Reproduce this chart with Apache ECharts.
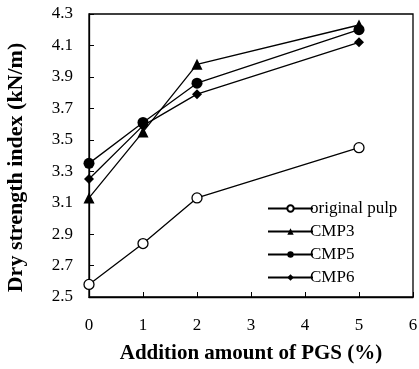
<!DOCTYPE html>
<html>
<head>
<meta charset="utf-8">
<script src="https://cdn.jsdelivr.net/npm/echarts@6/dist/echarts.min.js"></script>
<style>
  html, body { margin: 0; padding: 0; background: #fff; }
  #chart { width: 419px; height: 369px; }
</style>
</head>
<body>
<div id="chart"></div>
<script>
// 数据
const additions = [0, 1, 2, 5];
const originalPulp = [2.58, 2.84, 3.13, 3.45];
const cmp3 = [3.13, 3.55, 3.98, 4.23];
const cmp5 = [3.35, 3.61, 3.86, 4.20];
const cmp6 = [3.25, 3.59, 3.79, 4.12];
const yTicks = ['2.5', '2.7', '2.9', '3.1', '3.3', '3.5', '3.7', '3.9', '4.1', '4.3'];

const font = '"Liberation Serif", "DejaVu Serif", serif';

function pairs(vals) {
    return additions.map((x, i) => [x, vals[i]]);
}

function line(name, vals, symbol, size, hollow) {
    return {
        name: name,
        type: 'line',
        data: pairs(vals),
        symbol: symbol,
        symbolSize: size,
        showSymbol: true,
        lineStyle: { color: '#000', width: 1.3 },
        itemStyle: {
            color: hollow ? '#fff' : '#000',
            borderColor: '#000',
            borderWidth: hollow ? 1.3 : 0
        },
        animation: false
    };
}

let myChart = echarts.init(document.getElementById('chart'));
myChart.setOption({
    backgroundColor: '#fff',
    grid: { left: 89, top: 14, right: 6, bottom: 72, outerBoundsMode: 'none', containLabel: false },
    legend: {
        orient: 'vertical',
        left: 262,
        top: 195,
        itemWidth: 45,
        itemHeight: 8,
        itemGap: 6,
        textStyle: { fontFamily: font, fontSize: 17, color: '#000', padding: [0, 0, 0, -8] },
        data: ['original pulp', 'CMP3', 'CMP5', 'CMP6']
    },
    xAxis: {
        type: 'value',
        min: 0, max: 6, interval: 1,
        name: 'Addition amount of PGS (%)',
        nameLocation: 'middle',
        nameGap: 46,
        nameTextStyle: { fontFamily: font, fontSize: 21, fontWeight: 'bold', color: '#000' },
        axisLine: { show: true, lineStyle: { color: '#000', width: 1.3 } },
        axisTick: { show: true, inside: true, length: 5, lineStyle: { color: '#000' } },
        axisLabel: { fontFamily: font, fontSize: 17, color: '#000', margin: 20 },
        splitLine: { show: false }
    },
    yAxis: {
        type: 'value',
        min: 2.5, max: 4.3, interval: 0.2,
        name: 'Dry strength index (kN/m)',
        nameLocation: 'middle',
        nameGap: 62,
        nameTextStyle: { fontFamily: font, fontSize: 22, fontWeight: 'bold', color: '#000', padding: [0, 24, 0, 0] },
        axisLine: { show: true, lineStyle: { color: '#000', width: 1.3 } },
        axisTick: { show: true, inside: true, length: 5, lineStyle: { color: '#000' } },
        axisLabel: {
            fontFamily: font, fontSize: 17, color: '#000', margin: 16,
            formatter: function (v) {
                const s = v.toFixed(1);
                return yTicks.indexOf(s) >= 0 ? s : '';
            }
        },
        splitLine: { show: false }
    },
    graphic: [{
        // 外框
        type: 'rect',
        shape: { x: 89, y: 14, width: 324, height: 283 },
        style: { fill: 'none', stroke: '#000', lineWidth: 1.3 },
        silent: true
    }],
    series: [
        line('original pulp', originalPulp, 'circle', 10, true),
        line('CMP3', cmp3, 'triangle', 11, false),
        line('CMP5', cmp5, 'circle', 11, false),
        line('CMP6', cmp6, 'diamond', 10, false)
    ]
});
</script>
</body>
</html>
